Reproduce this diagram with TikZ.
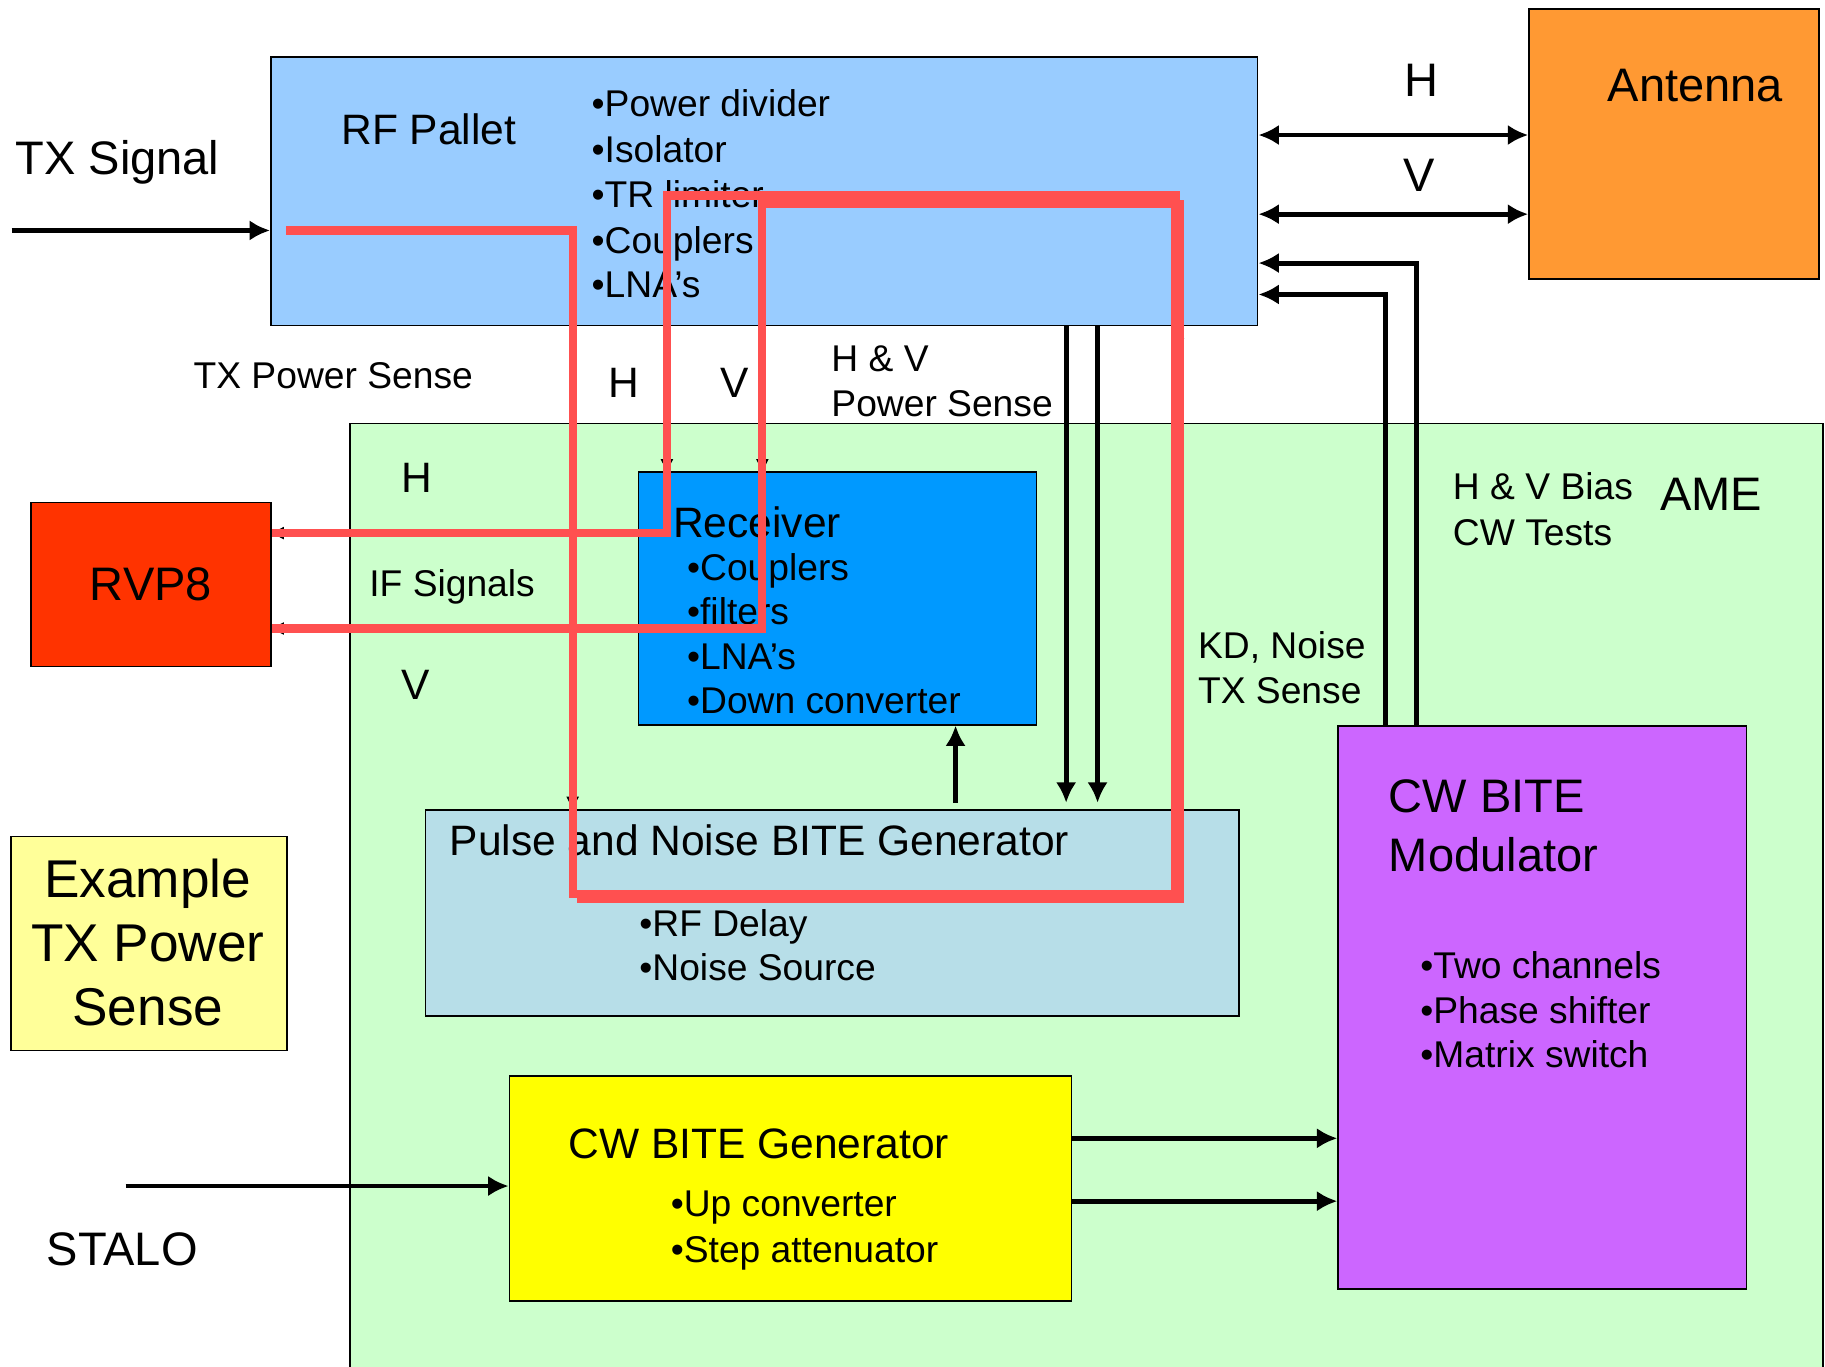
\documentclass[tikz,border=0pt]{standalone}
\usepackage{fontspec}
\setmainfont{Liberation Sans}
\usetikzlibrary{arrows.meta}

\definecolor{pallet}{HTML}{99CCFF}
\definecolor{antenna}{HTML}{FF9933}
\definecolor{ame}{HTML}{CCFFCC}
\definecolor{rvp}{HTML}{FF3300}
\definecolor{rcv}{HTML}{0099FF}
\definecolor{pulse}{HTML}{B7DEE8}
\definecolor{example}{HTML}{FFFF99}
\definecolor{cwgen}{HTML}{FFFF00}
\definecolor{mod}{HTML}{CC66FF}
\definecolor{hotred}{HTML}{FF5050}

\newcommand{\szbig}{\fontsize{23}{27}\selectfont}
\newcommand{\sztitle}{\fontsize{20.8}{25}\selectfont}
\newcommand{\szsmall}{\fontsize{18.2}{22}\selectfont}
\newcommand{\szex}{\fontsize{26}{31}\selectfont}

\begin{document}
\begin{tikzpicture}[x=0.02cm, y=-0.02cm,
    blk/.style = {draw, line width=0.8pt, anchor=north west, inner sep=0},
    lbl/.style = {anchor=west, inner sep=0, text depth=0pt},
    lbig/.style = {lbl, font=\szbig, text height=16.5pt},
    ltitle/.style = {lbl, font=\sztitle, text height=14.9pt},
    lsmall/.style = {lbl, font=\szsmall, text height=13pt},
    lex/.style = {lbl, font=\szex, text height=18.6pt, anchor=center},
    sig/.style = {line width=2.4pt, -{Latex[length=10pt,width=10pt]}},
    tap/.style = {line width=0.6pt, -{Triangle[length=6pt,width=6pt]}},
    hot/.style = {draw=hotred, line width=4pt}]

    \clip (0,0) rectangle (1568,1174);
    \fill[white] (0,0) rectangle (1568,1174);

    % blocks
    \node[blk, fill=ame, minimum width=25.32cm, minimum height=16.6cm] (ame) at (300,363) {};
    \node[blk, fill=pallet, minimum width=16.96cm, minimum height=4.62cm] (pallet) at (232,48) {};
    \node[blk, fill=antenna, minimum width=4.98cm, minimum height=4.64cm] (antenna) at (1313,7) {};
    \node[blk, fill=rvp, minimum width=4.12cm, minimum height=2.82cm, font=\szbig] (rvp) at (26,431) {RVP8};
    \node[blk, fill=rcv, minimum width=6.84cm, minimum height=4.34cm] (rcv) at (548,405) {};
    \node[blk, fill=pulse, minimum width=13.98cm, minimum height=3.54cm] (pulse) at (365,695) {};
    \node[blk, fill=example, minimum width=4.74cm, minimum height=3.68cm] (example) at (9,718) {};
    \node[blk, fill=cwgen, minimum width=9.66cm, minimum height=3.86cm] (cwgen) at (437,924) {};
    \node[blk, fill=mod, minimum width=7.02cm, minimum height=9.68cm] (mod) at (1149,623) {};

    % labels
    \node[lbig] (txsig) at (13,135) {TX Signal};
    \node[lbig] (antname) at (1381,73) {Antenna};
    \node[lbig, anchor=center] (hant) at (1221,68) {H};
    \node[lbig, anchor=center] (vant) at (1219,150) {V};
    \node[lbig] (amename) at (1426,424) {AME};
    \node[lbig] (modname1) at (1193,684) {CW BITE};
    \node[lbig] (modname2) at (1193,734) {Modulator};
    \node[lbig] (staloname) at (40,1073) {STALO};

    \node[ltitle] (palletname) at (293,111) {RF Pallet};
    \node[ltitle] (rcvname) at (578,449) {Receiver};
    \node[ltitle] (pulsename) at (386,722) {Pulse and Noise BITE Generator};
    \node[ltitle] (cwgenname) at (488,982) {CW BITE Generator};
    \node[ltitle, anchor=center] (hsense) at (536,328) {H};
    \node[ltitle, anchor=center] (vsense) at (631,328) {V};
    \node[ltitle, anchor=center] (hif) at (358,410) {H};
    \node[ltitle, anchor=center] (vif) at (357,588) {V};

    \node[lsmall] (pb1) at (508,89) {•Power divider};
    \node[lsmall] (pb2) at (508,128) {•Isolator};
    \node[lsmall] (pb3) at (508,167) {•TR limiter};
    \node[lsmall] (pb4) at (508,206) {•Couplers};
    \node[lsmall] (pb5) at (508,244) {•LNA’s};
    \node[lsmall] (txps) at (166,322) {TX Power Sense};
    \node[lsmall] (hvps1) at (714,308) {H \& V};
    \node[lsmall] (hvps2) at (714,346) {Power Sense};
    \node[lsmall] (bias1) at (1248,418) {H \& V Bias};
    \node[lsmall] (bias2) at (1248,457) {CW Tests};
    \node[lsmall] (ifsig) at (317,501) {IF Signals};
    \node[lsmall] (rb1) at (590,487) {•Couplers};
    \node[lsmall] (rb2) at (590,525) {•filters};
    \node[lsmall] (rb3) at (590,564) {•LNA’s};
    \node[lsmall] (rb4) at (590,602) {•Down converter};
    \node[lsmall] (kd1) at (1029,554) {KD, Noise};
    \node[lsmall] (kd2) at (1029,593) {TX Sense};
    \node[lsmall] (nb1) at (549,793) {•RF Delay};
    \node[lsmall] (nb2) at (549,831) {•Noise Source};
    \node[lsmall] (mb1) at (1220,829) {•Two channels};
    \node[lsmall] (mb2) at (1220,868) {•Phase shifter};
    \node[lsmall] (mb3) at (1220,906) {•Matrix switch};
    \node[lsmall] (gb1) at (576,1034) {•Up converter};
    \node[lsmall] (gb2) at (576,1073) {•Step attenuator};

    \node[lex] (ex1) at (127,755) {Example};
    \node[lex] (ex2) at (127,810) {TX Power};
    \node[lex] (ex3) at (127,865) {Sense};

    % signal arrows
    \coordinate (txin) at (10,198);
    \coordinate (stalo) at (108,1019);
    \draw[sig] (txin) -- (pallet.west |- txin);
    \draw[sig, {Latex[length=10pt,width=10pt]}-{Latex[length=10pt,width=10pt]}] (pallet.east |- 0,116) -- (antenna.west |- 0,116);
    \draw[sig, {Latex[length=10pt,width=10pt]}-{Latex[length=10pt,width=10pt]}] (pallet.east |- 0,184) -- (antenna.west |- 0,184);
    \draw[sig] (mod.north -| 1217,0) |- (pallet.east |- 0,226);
    \draw[sig] (mod.north -| 1190,0) |- (pallet.east |- 0,253);
    \draw[sig, shorten >=3pt] (pallet.south -| 916,0) -- (pulse.north -| 916,0);
    \draw[sig, shorten >=3pt] (pallet.south -| 943,0) -- (pulse.north -| 943,0);
    \draw[sig, shorten <=3pt] (pulse.north -| 821,0) -- (rcv.south -| 821,0);
    \draw[sig] (cwgen.east |- 0,978) -- (mod.west |- 0,978);
    \draw[sig] (cwgen.east |- 0,1032) -- (mod.west |- 0,1032);
    \draw[sig] (stalo) -- (cwgen.west |- stalo);

    % thin taps under the red overlay
    \draw[tap] (pallet.south -| 573,0) -- (rcv.north -| 573,0);
    \draw[tap] (pallet.south -| 655,0) -- (rcv.north -| 655,0);
    \draw[tap] (pallet.south -| 492,0) -- (pulse.north -| 492,0);
    \draw[tap] (pulse.north -| 1012,0) -- (pallet.south -| 1012,0);
    \draw[tap] (rcv.west |- 0,458) -- (rvp.east |- 0,458);
    \draw[tap] (rcv.west |- 0,540) -- (rvp.east |- 0,540);

    % red overlay
    \draw[hot] (246,198) -- (492,198) -- (492,768) -- (1010,768) -- (1010,168) -- (573,168) -- (573,458) -- (rvp.east |- 0,458);
    \draw[hot] (496,772) -- (1014,772) -- (1014,175) -- (655,175) -- (655,540) -- (rvp.east |- 0,540);
\end{tikzpicture}
\end{document}
